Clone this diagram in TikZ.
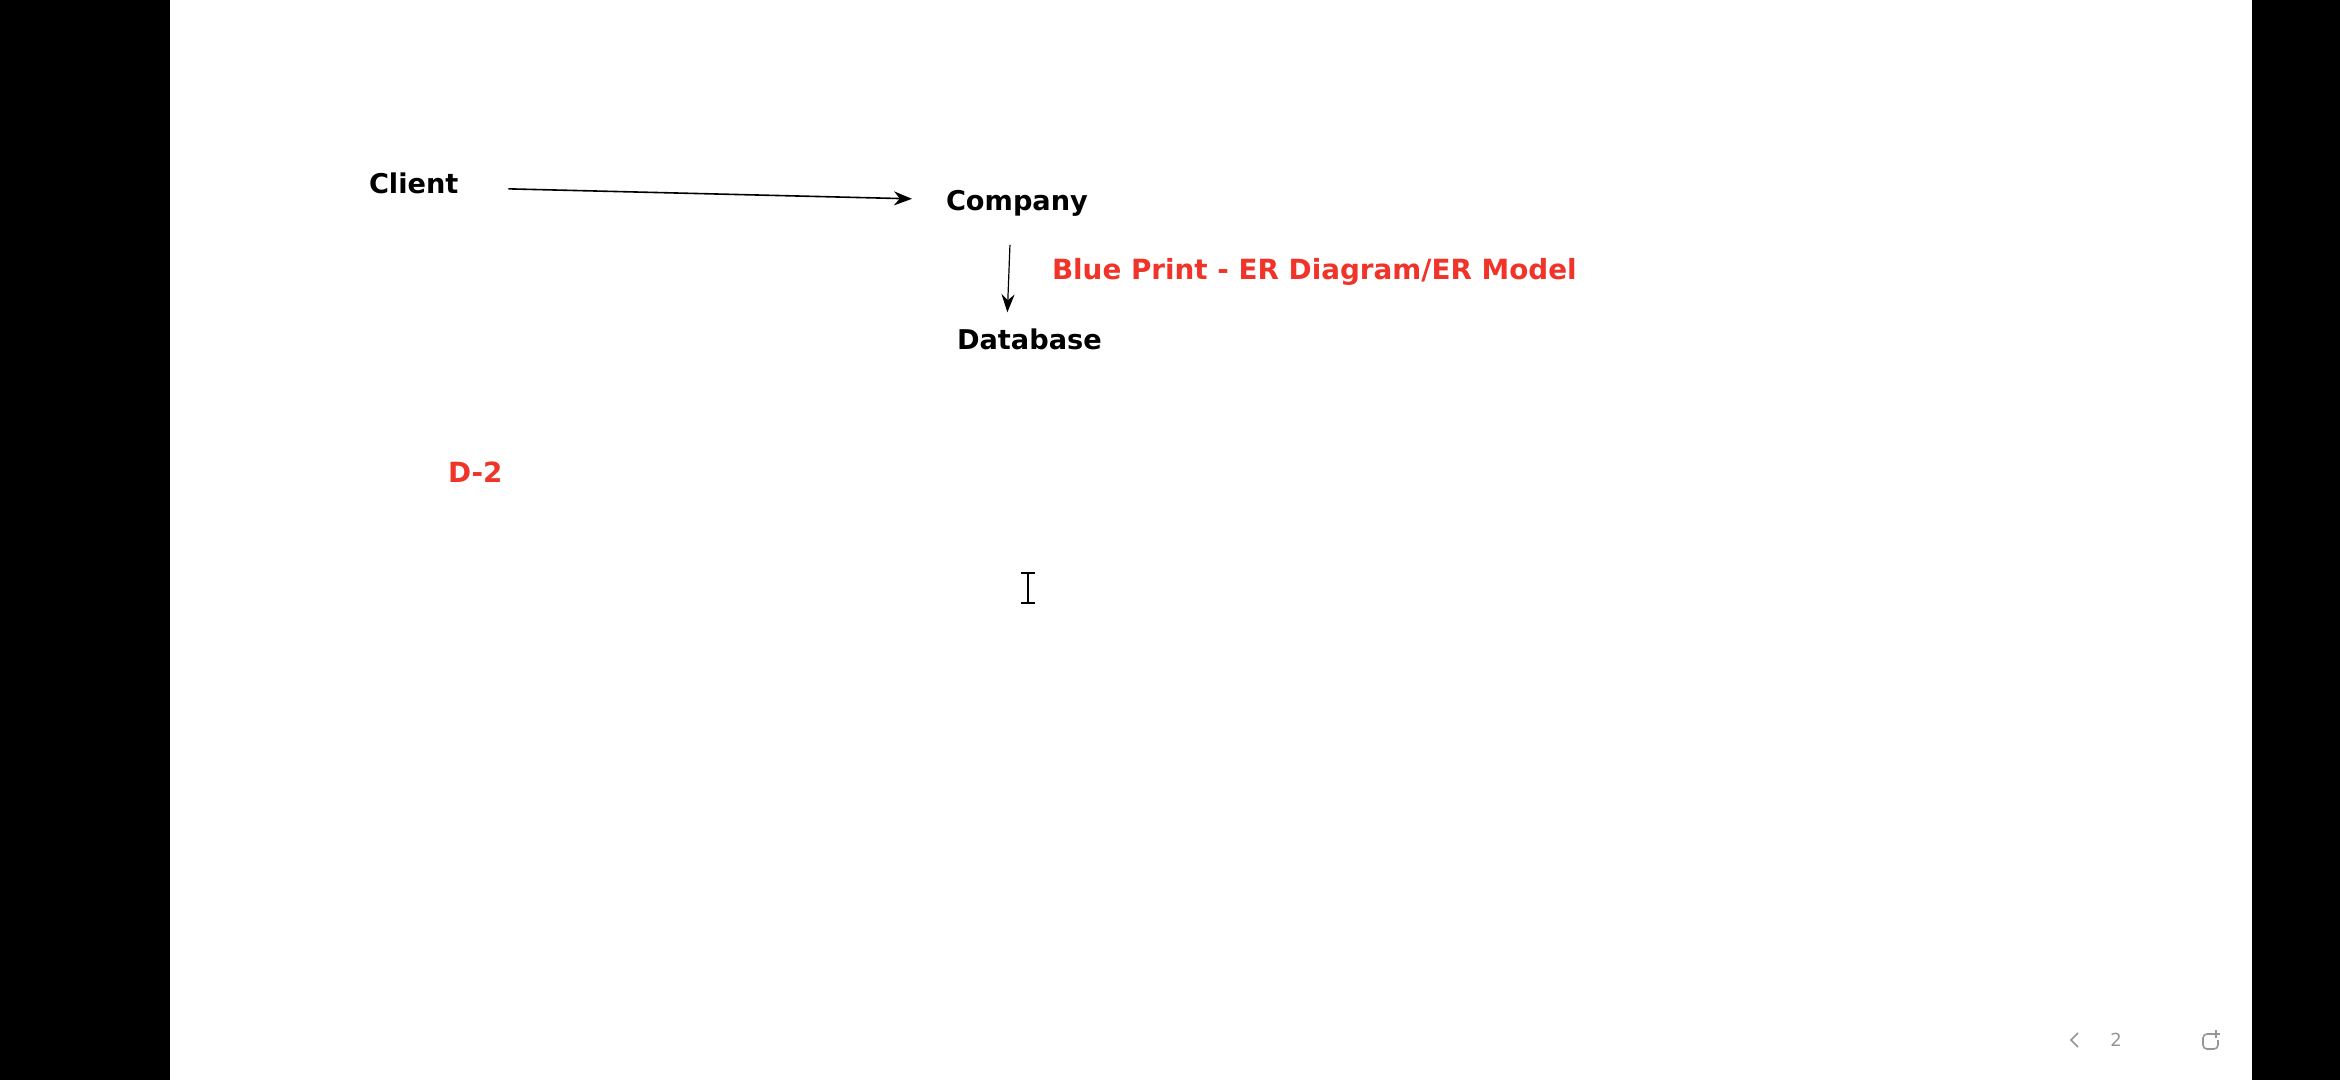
\documentclass[tikz,border=0pt]{standalone}
\usepackage{fontspec}
\setmainfont{DejaVu Sans}
\usetikzlibrary{arrows.meta}
\definecolor{hlred}{RGB}{240,52,42}
\definecolor{uigray}{RGB}{150,150,150}
\tikzset{
  lbl/.style={inner sep=0pt, outer sep=0pt, anchor=base west, font=\fontsize{13.6}{15}\selectfont\bfseries},
  redlbl/.style={lbl, text=hlred, font=\fontsize{13.9}{16}\selectfont\bfseries},
  arr/.style={draw=black, line width=0.8pt, -{Stealth[length=9pt, width=7pt]}},
  arrv/.style={draw=black, line width=0.6pt, -{Stealth[length=9pt, width=6.5pt]}},
}
\begin{document}
\begin{tikzpicture}[x=0.5pt, y=-0.5pt]
  % frame
  \fill[white] (0,0) rectangle (2340,1080);
  \useasboundingbox (0,0) rectangle (2340,1080);
  \fill[black] (0,0) rectangle (170,1080);
  \fill[black] (2252,0) rectangle (2340,1080);

  % labels
  \node[lbl] (client) at (369,194) {Client};
  \node[lbl] (company) at (946,211) {Company};
  \node[lbl] (database) at (957,350) {Database};
  \node[redlbl] (blueprint) at (1052,280) {Blue Print - ER Diagram/ER Model};
  \node[redlbl] (d2) at (448,482) {D-2};

  % connectors
  \draw[arr] ([shift={(50,5)}]client.east) -- ([shift={(-34,-5)}]company.west);
  \draw[arrv] ([shift={(-7,28)}]company.south) -- ([shift={(-22,-17)}]database.north);

  % text cursor
  \draw[black, line width=1pt] (1028,574) -- (1028,602)
        (1021,573) -- (1035,573) (1021,603) -- (1035,603);

  % viewer controls (bottom right)
  \draw[uigray, line width=0.8pt] (2078,1033) -- (2071,1040) -- (2078,1047);
  \node[inner sep=0pt, text=uigray, font=\fontsize{9}{10}\selectfont] (page) at (2116,1040) {2};
  \draw[uigray, line width=0.8pt, rounded corners=2pt] (2213,1034) -- (2203,1034) -- (2203,1049) -- (2218,1049) -- (2218,1040);
  \draw[uigray, line width=0.8pt] (2216,1030) -- (2216,1038) (2212,1034) -- (2220,1034);
\end{tikzpicture}
\end{document}
